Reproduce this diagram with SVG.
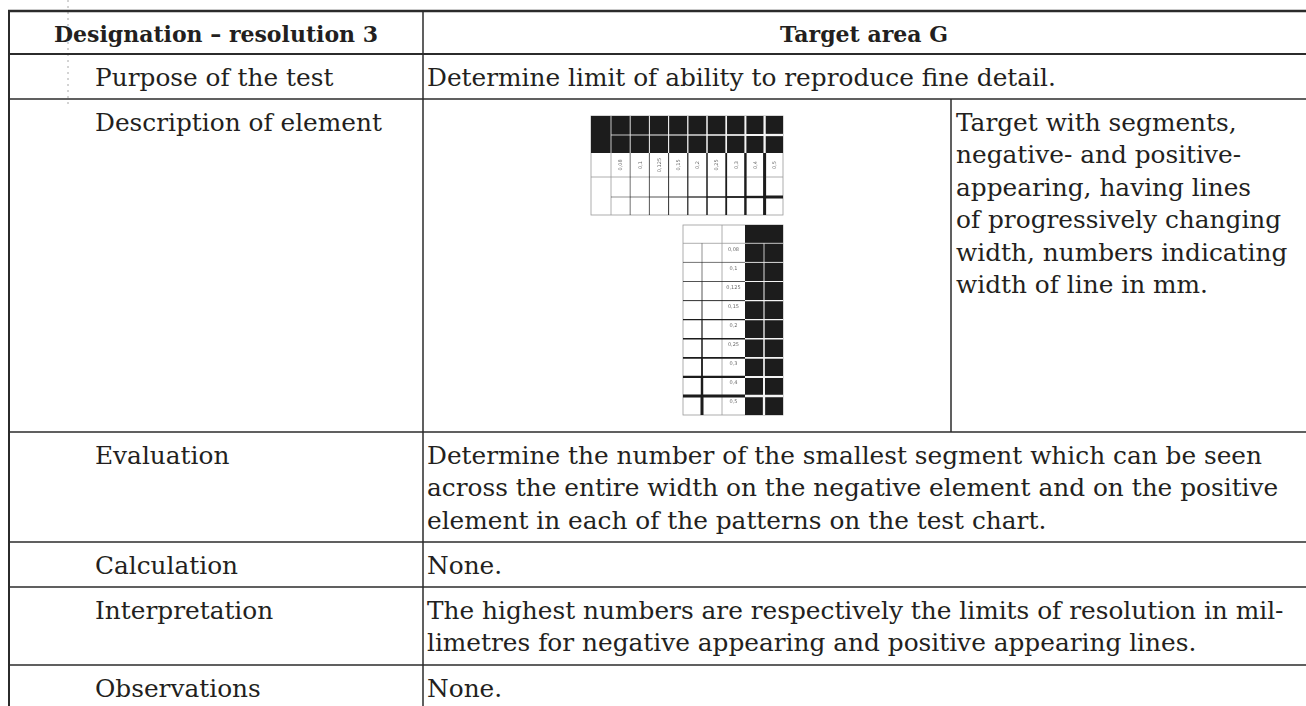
<svg xmlns="http://www.w3.org/2000/svg" width="1306" height="706" viewBox="0 0 1306 706">
  <style>
    .t { font-family: "DejaVu Serif", "Liberation Serif", serif; font-size: 24.8px; fill: #231f20; }
    .b { font-weight: bold; font-size: 22px; }
    .rule { stroke: #2b2b2b; stroke-width: 1.5; fill: none; }
    .heavy { stroke: #2b2b2b; stroke-width: 2.6; fill: none; }
    .lbl { font-family: "DejaVu Sans", "Liberation Sans", sans-serif; font-size: 5px; fill: #6a6a6a; }
    .thin { stroke: #9a9a9a; stroke-width: 0.8; fill: none; }
    .blk { stroke: #1a1a1a; fill: none; }
    .wht { stroke: #f4f4f4; fill: none; }
  </style>
  <defs>
    <filter id="soft" x="-5%" y="-5%" width="110%" height="110%">
      <feGaussianBlur stdDeviation="0.35"/>
    </filter>
  </defs>

  <rect width="1306" height="706" fill="#ffffff"/>

  <!-- margin guide dots -->
  <line x1="68" y1="0" x2="68" y2="104" stroke="#a8a8a8" stroke-width="1" stroke-dasharray="2 4"/>

  <!-- table rules -->
  <g id="table-rules">
    <line class="heavy" x1="8" y1="11" x2="1306" y2="11"/>
    <line class="heavy" x1="8" y1="54" x2="1306" y2="54" style="stroke-width:2.2"/>
    <line class="rule" x1="8" y1="99" x2="1306" y2="99"/>
    <line class="rule" x1="8" y1="432" x2="1306" y2="432"/>
    <line class="rule" x1="8" y1="542" x2="1306" y2="542"/>
    <line class="rule" x1="8" y1="587" x2="1306" y2="587"/>
    <line class="rule" x1="8" y1="665" x2="1306" y2="665"/>
    <line class="heavy" x1="9" y1="10" x2="9" y2="706" style="stroke-width:2"/>
    <line class="rule" x1="423" y1="11" x2="423" y2="706"/>
    <line class="rule" x1="951" y1="99" x2="951" y2="432"/>
  </g>

  <!-- header row -->
  <g id="header">
    <text class="t b" x="216" y="42" text-anchor="middle">Designation – resolution 3</text>
    <text class="t b" x="864" y="42" text-anchor="middle">Target area G</text>
  </g>

  <!-- left column labels -->
  <g id="labels">
    <text class="t" x="95" y="86">Purpose of the test</text>
    <text class="t" x="95" y="131">Description of element</text>
    <text class="t" x="95" y="464">Evaluation</text>
    <text class="t" x="95" y="574">Calculation</text>
    <text class="t" x="95" y="619">Interpretation</text>
    <text class="t" x="95" y="697">Observations</text>
  </g>

  <!-- right column contents -->
  <g id="contents">
    <text class="t" x="427" y="86">Determine limit of ability to reproduce fine detail.</text>
    <text class="t" x="956" y="131">Target with segments,</text>
    <text class="t" x="956" y="163.4">negative- and positive-</text>
    <text class="t" x="956" y="195.8">appearing, having lines</text>
    <text class="t" x="956" y="228.2">of progressively changing</text>
    <text class="t" x="956" y="260.6">width, numbers indicating</text>
    <text class="t" x="956" y="293">width of line in mm.</text>
    <text class="t" x="427" y="464">Determine the number of the smallest segment which can be seen</text>
    <text class="t" x="427" y="496.4">across the entire width on the negative element and on the positive</text>
    <text class="t" x="427" y="528.8">element in each of the patterns on the test chart.</text>
    <text class="t" x="427" y="574">None.</text>
    <text class="t" x="427" y="619">The highest numbers are respectively the limits of resolution in mil-</text>
    <text class="t" x="427" y="651.4">limetres for negative appearing and positive appearing lines.</text>
    <text class="t" x="427" y="697">None.</text>
  </g>

  <!-- resolution target, horizontal bar -->
  <g id="target-horizontal" filter="url(#soft)">
    <rect x="591" y="116" width="192" height="99" fill="#ffffff" class="thin"/>
    <rect x="591" y="116" width="192" height="37" fill="#1a1a1a"/>
    <!-- negative part: white lines on black -->
    <line class="wht" x1="611" y1="135" x2="630.2" y2="135" stroke-width="0.8"/>
    <line class="wht" x1="630.2" y1="135" x2="649.4" y2="135" stroke-width="0.9"/>
    <line class="wht" x1="649.4" y1="135" x2="668.6" y2="135" stroke-width="1"/>
    <line class="wht" x1="668.6" y1="135" x2="687.8" y2="135" stroke-width="1.1"/>
    <line class="wht" x1="687.8" y1="135" x2="707" y2="135" stroke-width="1.3"/>
    <line class="wht" x1="707" y1="135" x2="726.2" y2="135" stroke-width="1.5"/>
    <line class="wht" x1="726.2" y1="135" x2="745.4" y2="135" stroke-width="1.7"/>
    <line class="wht" x1="745.4" y1="135" x2="764.6" y2="135" stroke-width="2"/>
    <line class="wht" x1="764.6" y1="135" x2="783" y2="135" stroke-width="2.3"/>
    <line class="wht" x1="611" y1="116" x2="611" y2="153" stroke-width="0.8"/>
    <line class="wht" x1="630.2" y1="116" x2="630.2" y2="153" stroke-width="0.9"/>
    <line class="wht" x1="649.4" y1="116" x2="649.4" y2="153" stroke-width="1"/>
    <line class="wht" x1="668.6" y1="116" x2="668.6" y2="153" stroke-width="1.1"/>
    <line class="wht" x1="687.8" y1="116" x2="687.8" y2="153" stroke-width="1.3"/>
    <line class="wht" x1="707" y1="116" x2="707" y2="153" stroke-width="1.5"/>
    <line class="wht" x1="726.2" y1="116" x2="726.2" y2="153" stroke-width="1.7"/>
    <line class="wht" x1="745.4" y1="116" x2="745.4" y2="153" stroke-width="2"/>
    <line class="wht" x1="764.6" y1="116" x2="764.6" y2="153" stroke-width="2.3"/>
    <!-- positive part: black lines on white -->
    <line class="thin" x1="591" y1="177" x2="783" y2="177"/>
    <line class="thin" x1="611" y1="153" x2="611" y2="215"/>
    <line class="blk" x1="611" y1="197" x2="630.2" y2="197" stroke-width="0.5"/>
    <line class="blk" x1="630.2" y1="197" x2="649.4" y2="197" stroke-width="0.6"/>
    <line class="blk" x1="649.4" y1="197" x2="668.6" y2="197" stroke-width="0.75"/>
    <line class="blk" x1="668.6" y1="197" x2="687.8" y2="197" stroke-width="0.9"/>
    <line class="blk" x1="687.8" y1="197" x2="707" y2="197" stroke-width="1.2"/>
    <line class="blk" x1="707" y1="197" x2="726.2" y2="197" stroke-width="1.5"/>
    <line class="blk" x1="726.2" y1="197" x2="745.4" y2="197" stroke-width="1.8"/>
    <line class="blk" x1="745.4" y1="197" x2="764.6" y2="197" stroke-width="2.4"/>
    <line class="blk" x1="764.6" y1="197" x2="783" y2="197" stroke-width="3"/>
    <line class="blk" x1="630.2" y1="153" x2="630.2" y2="215" stroke-width="0.6"/>
    <line class="blk" x1="649.4" y1="153" x2="649.4" y2="215" stroke-width="0.75"/>
    <line class="blk" x1="668.6" y1="153" x2="668.6" y2="215" stroke-width="0.9"/>
    <line class="blk" x1="687.8" y1="153" x2="687.8" y2="215" stroke-width="1.2"/>
    <line class="blk" x1="707" y1="153" x2="707" y2="215" stroke-width="1.5"/>
    <line class="blk" x1="726.2" y1="153" x2="726.2" y2="215" stroke-width="1.8"/>
    <line class="blk" x1="745.4" y1="153" x2="745.4" y2="215" stroke-width="2.4"/>
    <line class="blk" x1="764.6" y1="153" x2="764.6" y2="215" stroke-width="3"/>
    <!-- segment widths, mm -->
    <text class="lbl" transform="translate(622.4,165) rotate(-90)" text-anchor="middle">0,08</text>
    <text class="lbl" transform="translate(641.6,165) rotate(-90)" text-anchor="middle">0,1</text>
    <text class="lbl" transform="translate(660.8,165) rotate(-90)" text-anchor="middle">0,125</text>
    <text class="lbl" transform="translate(680,165) rotate(-90)" text-anchor="middle">0,15</text>
    <text class="lbl" transform="translate(699.2,165) rotate(-90)" text-anchor="middle">0,2</text>
    <text class="lbl" transform="translate(718.4,165) rotate(-90)" text-anchor="middle">0,25</text>
    <text class="lbl" transform="translate(737.6,165) rotate(-90)" text-anchor="middle">0,3</text>
    <text class="lbl" transform="translate(756.8,165) rotate(-90)" text-anchor="middle">0,4</text>
    <text class="lbl" transform="translate(775.6,165) rotate(-90)" text-anchor="middle">0,5</text>
  </g>

  <!-- resolution target, vertical bar -->
  <g id="target-vertical" filter="url(#soft)">
    <rect x="683" y="225" width="100" height="190" fill="#ffffff" class="thin"/>
    <rect x="745" y="225" width="38" height="190" fill="#1a1a1a"/>
    <line class="thin" x1="683" y1="243.3" x2="745" y2="243.3"/>
    <line class="thin" x1="722" y1="225" x2="722" y2="415"/>
    <!-- negative part: white lines on black -->
    <line class="wht" x1="745" y1="243.3" x2="783" y2="243.3" stroke-width="0.8"/>
    <line class="wht" x1="745" y1="262.4" x2="783" y2="262.4" stroke-width="0.9"/>
    <line class="wht" x1="745" y1="281.5" x2="783" y2="281.5" stroke-width="1"/>
    <line class="wht" x1="745" y1="300.6" x2="783" y2="300.6" stroke-width="1.1"/>
    <line class="wht" x1="745" y1="319.6" x2="783" y2="319.6" stroke-width="1.3"/>
    <line class="wht" x1="745" y1="338.7" x2="783" y2="338.7" stroke-width="1.5"/>
    <line class="wht" x1="745" y1="357.8" x2="783" y2="357.8" stroke-width="1.7"/>
    <line class="wht" x1="745" y1="376.9" x2="783" y2="376.9" stroke-width="2"/>
    <line class="wht" x1="745" y1="396" x2="783" y2="396" stroke-width="2.3"/>
    <line class="wht" x1="764" y1="243.3" x2="764" y2="262.4" stroke-width="0.8"/>
    <line class="wht" x1="764" y1="262.4" x2="764" y2="281.5" stroke-width="0.9"/>
    <line class="wht" x1="764" y1="281.5" x2="764" y2="300.6" stroke-width="1"/>
    <line class="wht" x1="764" y1="300.6" x2="764" y2="319.6" stroke-width="1.1"/>
    <line class="wht" x1="764" y1="319.6" x2="764" y2="338.7" stroke-width="1.3"/>
    <line class="wht" x1="764" y1="338.7" x2="764" y2="357.8" stroke-width="1.5"/>
    <line class="wht" x1="764" y1="357.8" x2="764" y2="376.9" stroke-width="1.7"/>
    <line class="wht" x1="764" y1="376.9" x2="764" y2="396" stroke-width="2"/>
    <line class="wht" x1="764" y1="396" x2="764" y2="415" stroke-width="2.3"/>
    <!-- positive part: black lines on white -->
    <line class="blk" x1="683" y1="262.4" x2="745" y2="262.4" stroke-width="0.6"/>
    <line class="blk" x1="683" y1="281.5" x2="745" y2="281.5" stroke-width="0.75"/>
    <line class="blk" x1="683" y1="300.6" x2="745" y2="300.6" stroke-width="0.9"/>
    <line class="blk" x1="683" y1="319.6" x2="745" y2="319.6" stroke-width="1.2"/>
    <line class="blk" x1="683" y1="338.7" x2="745" y2="338.7" stroke-width="1.5"/>
    <line class="blk" x1="683" y1="357.8" x2="745" y2="357.8" stroke-width="1.8"/>
    <line class="blk" x1="683" y1="376.9" x2="745" y2="376.9" stroke-width="2.4"/>
    <line class="blk" x1="683" y1="396" x2="745" y2="396" stroke-width="3"/>
    <line class="blk" x1="702" y1="243.3" x2="702" y2="262.4" stroke-width="0.5"/>
    <line class="blk" x1="702" y1="262.4" x2="702" y2="281.5" stroke-width="0.6"/>
    <line class="blk" x1="702" y1="281.5" x2="702" y2="300.6" stroke-width="0.75"/>
    <line class="blk" x1="702" y1="300.6" x2="702" y2="319.6" stroke-width="0.9"/>
    <line class="blk" x1="702" y1="319.6" x2="702" y2="338.7" stroke-width="1.2"/>
    <line class="blk" x1="702" y1="338.7" x2="702" y2="357.8" stroke-width="1.5"/>
    <line class="blk" x1="702" y1="357.8" x2="702" y2="376.9" stroke-width="1.8"/>
    <line class="blk" x1="702" y1="376.9" x2="702" y2="396" stroke-width="2.4"/>
    <line class="blk" x1="702" y1="396" x2="702" y2="415" stroke-width="3"/>
    <!-- segment widths, mm -->
    <text class="lbl" x="733.5" y="251" text-anchor="middle">0,08</text>
    <text class="lbl" x="733.5" y="270" text-anchor="middle">0,1</text>
    <text class="lbl" x="733.5" y="289" text-anchor="middle">0,125</text>
    <text class="lbl" x="733.5" y="308" text-anchor="middle">0,15</text>
    <text class="lbl" x="733.5" y="327" text-anchor="middle">0,2</text>
    <text class="lbl" x="733.5" y="346" text-anchor="middle">0,25</text>
    <text class="lbl" x="733.5" y="365" text-anchor="middle">0,3</text>
    <text class="lbl" x="733.5" y="384" text-anchor="middle">0,4</text>
    <text class="lbl" x="733.5" y="403" text-anchor="middle">0,5</text>
  </g>
</svg>
